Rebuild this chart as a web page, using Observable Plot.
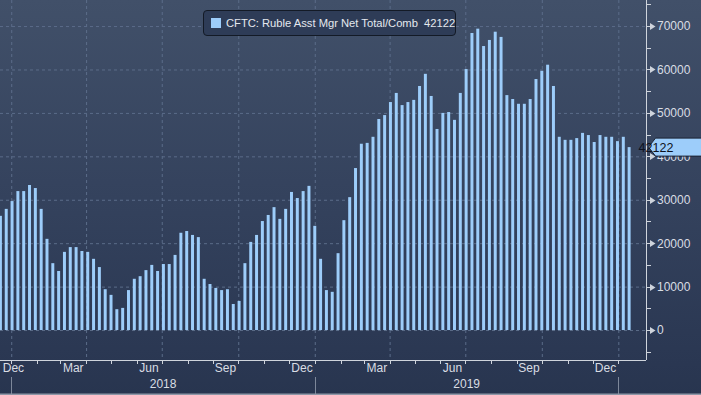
<!DOCTYPE html>
<html>
<head>
<meta charset="utf-8">
<script src="https://cdn.jsdelivr.net/npm/d3@7"></script>
<script src="https://cdn.jsdelivr.net/npm/@observablehq/plot@0.6"></script>
<style>
html, body { margin: 0; padding: 0; background: #29364f; }
#wrap { position: relative; width: 701px; height: 395px; overflow: hidden; }
#wrap svg { display: block; }
#legend {
  position: absolute; left: 203px; top: 10px; width: 253px; height: 26px;
  box-sizing: border-box; border: 1px solid #131a26; border-radius: 4px;
  background: #2e3c57; color: #e4e8ee;
  font: 11.2px "Liberation Sans", Arial, sans-serif;
  display: flex; align-items: center; white-space: pre; overflow: hidden;
}
#legend .sw { display: inline-block; flex: 0 0 10px; width: 10px; height: 10px; background: #9dcdfa; margin: 0 5px 0 7px; }
</style>
</head>
<body>
<div id="wrap">
  <div id="legend"><span class="sw"></span><span id="ltext"></span></div>
</div>
<script>
// ---- data ----
const seriesName = "CFTC: Ruble Asst Mgr Net Total/Comb";
const firstWeek = "2017-12-19"; // weekly CFTC report dates (Tuesdays)
const values = [
  26300, 27900, 29700, 32000, 32000, 33400, 32700, 27900, 21000, 15400,
  13600, 18000, 19100, 19100, 18200, 18000, 16400, 14500, 9400, 8100,
  4800, 5100, 9200, 11800, 12400, 13800, 15000, 13600, 15200, 15200,
  17300, 22400, 22800, 21900, 21400, 11800, 10600, 9700, 9200, 9400,
  6000, 6700, 15400, 20300, 21900, 25100, 26500, 28300, 25600, 27900,
  31800, 30400, 32000, 33200, 24000, 16400, 9200, 8800, 17700, 25300,
  30600, 37300, 42900, 43100, 44500, 48600, 49500, 52500, 54600, 51800,
  52500, 53000, 56200, 59000, 53900, 46300, 50000, 50200, 48400, 54600,
  60100, 68400, 69400, 65400, 66800, 68700, 67500, 54100, 53200, 52100,
  52100, 53200, 57800, 59700, 61100, 56200, 44500, 43800, 43800, 44200,
  45400, 44900, 43300, 44900, 44500, 44500, 43500, 44500, 42122
];
const yTicks = [0, 10000, 20000, 30000, 40000, 50000, 60000, 70000];
const yMinorTicks = [-5000, 5000, 15000, 25000, 35000, 45000, 55000, 65000, 75000];
const quarterStarts = ["2018-01-01","2018-04-01","2018-07-01","2018-10-01","2019-01-01","2019-04-01","2019-07-01","2019-10-01","2020-01-01"];
const yearStarts = ["2018-01-01","2019-01-01","2020-01-01"];
const monthLabels = ["Dec","Mar","Jun","Sep","Dec","Mar","Jun","Sep","Dec"];
const monthLabelDates = ["2017-12-16","2018-03-16","2018-06-15","2018-09-15","2018-12-16","2019-03-16","2019-06-15","2019-09-15","2019-12-16"];
const yearLabels = ["2018","2019"];
const yearLabelDates = ["2018-07-02","2019-07-02"];

// ---- derived table ----
const parse = s => new Date(s + "T00:00:00Z");
const start = parse(firstWeek);
const data = values.map((v, i) => ({date: d3.utcDay.offset(start, 7 * i), value: v}));
const last = data[data.length - 1];
const monthStarts = d3.utcMonth.range(parse("2018-01-01"), parse("2020-01-02"));

document.getElementById("ltext").textContent = seriesName + "  " + last.value;

const BAR = "#9dcdfa", GRID = "#5b6c89", AXIS = "#cfd4dc", LABEL = "#d9dde4";
const FONT = '"Liberation Sans", Arial, sans-serif';

function decorations(index, scales, vals, dims) {
  const x = scales.x, y = scales.y;
  const right = dims.width - dims.marginRight;
  const bottom = dims.height - dims.marginBottom;
  const g = d3.create("svg:g");
  // right axis ticks
  for (const t of yTicks) {
    const yy = Math.round(y(t)) + 0.5;
    g.append("line").attr("x1", right).attr("x2", right + 5).attr("y1", yy).attr("y2", yy).attr("stroke", AXIS);
    g.append("path").attr("d", `M${right + 4},${yy - 3.5}L${right + 9.5},${yy}L${right + 4},${yy + 3.5}Z`).attr("fill", AXIS);
  }
  for (const t of yMinorTicks) {
    const yy = Math.round(y(t)) + 0.5;
    g.append("line").attr("x1", right).attr("x2", right + 5).attr("y1", yy).attr("y2", yy).attr("stroke", AXIS);
  }
  // bottom axis monthly ticks
  for (const m of monthStarts) {
    const xx = Math.round(x(m)) + 0.5;
    g.append("line").attr("x1", xx).attr("x2", xx).attr("y1", bottom).attr("y2", bottom + 4).attr("stroke", AXIS);
  }
  // year separators
  for (const s of yearStarts) {
    const xx = Math.round(x(parse(s))) + 0.5;
    g.append("line").attr("x1", xx).attr("x2", xx).attr("y1", bottom + 17).attr("y2", dims.height).attr("stroke", "#7d879a");
  }
  // bottom border line
  g.append("rect").attr("x", 0).attr("y", dims.height - 1.5).attr("width", dims.width).attr("height", 1.5).attr("fill", "#8e97a7");
  // last value tag
  const ty = y(last.value);
  g.append("path")
    .attr("d", `M${right + 2.5},${ty}L${right + 9.5},${ty - 9}L${dims.width + 2},${ty - 9}L${dims.width + 2},${ty + 9}L${right + 9.5},${ty + 9}Z`)
    .attr("fill", BAR).attr("stroke", "#1a2233");
  g.append("text").attr("x", right + 10).attr("y", ty).attr("dy", "0.36em")
    .attr("fill", "#0d1220").attr("font-family", FONT).attr("font-size", 12.5)
    .text(String(last.value));
  return g.node();
}

const plot = Plot.plot({
  width: 701,
  height: 395,
  marginLeft: 0,
  marginRight: 55,
  marginTop: 0,
  marginBottom: 35,
  style: {
    background: "linear-gradient(to bottom, #415069 0%, #34425d 50%, #2a3752 92%, #28354f 100%)",
    fontFamily: FONT
  },
  x: {type: "utc", domain: [new Date(Date.UTC(2017, 11, 18, 12)), new Date(Date.UTC(2020, 1, 3, 7))], axis: null},
  y: {domain: [-6900, 76000], axis: null},
  marks: [
    Plot.ruleY(yTicks, {stroke: GRID, strokeDasharray: "3,3", strokeWidth: 1}),
    Plot.ruleX(quarterStarts.map(parse), {stroke: GRID, strokeDasharray: "3,3", strokeWidth: 1}),
    Plot.rectY(data, {
      x1: d => d3.utcHour.offset(d.date, -43),
      x2: d => d3.utcHour.offset(d.date, 43),
      y1: 0, y2: "value", fill: BAR
    }),
    Plot.ruleY([-6900], {stroke: AXIS}),
    Plot.ruleX([new Date(Date.UTC(2020, 1, 3, 7))], {stroke: AXIS}),
    Plot.text(yTicks, {y: d => d, frameAnchor: "right", dx: 10.5, textAnchor: "start", text: d => String(d), fill: LABEL, fontSize: 12}),
    Plot.text(monthLabels.slice(1), {x: (d, i) => parse(monthLabelDates[i + 1]), frameAnchor: "bottom", dy: 11, text: d => d, fill: LABEL, fontSize: 12}),
    Plot.text([monthLabels[0]], {x: () => parse(monthLabelDates[0]), frameAnchor: "bottom", dy: 11, dx: 15, text: d => d, fill: LABEL, fontSize: 12}),
    Plot.text(yearLabels, {x: (d, i) => parse(yearLabelDates[i]), frameAnchor: "bottom", dy: 27, text: d => d, fill: LABEL, fontSize: 12}),
    decorations
  ]
});
document.getElementById("wrap").prepend(plot);
</script>
</body>
</html>
